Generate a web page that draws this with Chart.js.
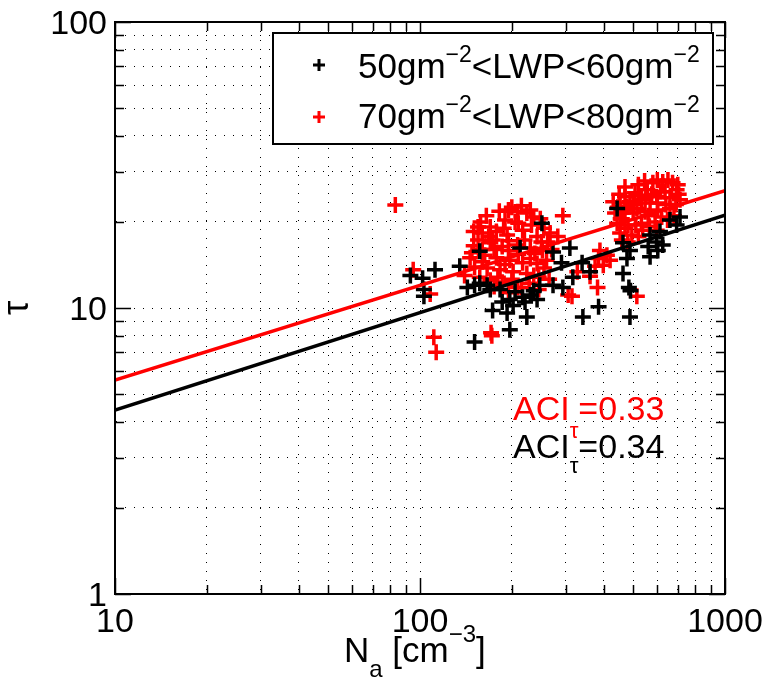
<!DOCTYPE html>
<html><head><meta charset="utf-8"><title>tau vs Na</title>
<script src="https://cdn.jsdelivr.net/npm/chart.js"></script>
<style>
  body { margin: 0; background: #ffffff; }
  canvas { display: block; }
</style>
</head>
<body>
<canvas id="aci" width="767" height="682"></canvas>
<script>
// tick values (log axes)
const xTicks = [10, 20, 30, 40, 50, 60, 70, 80, 90, 100, 200, 300, 400, 500, 600, 700, 800, 900, 1000];
const yTicks = [1, 2, 3, 4, 5, 6, 7, 8, 9, 10, 20, 30, 40, 50, 60, 70, 80, 90, 100];
const xMajor = [10, 100, 1000];
const yMajor = [1, 10, 100];

// 50 < LWP < 60 g m^-2
const blackX = [93, 102, 112, 103, 103, 135, 143, 151, 157, 166, 170, 173, 151, 197, 193, 186, 202, 224, 221, 242,
  230, 251, 273, 310, 291, 247, 273, 294, 342, 340, 213, 157, 183, 197, 217, 236, 205, 443, 712, 660,
  694, 612, 568, 463, 488, 560, 597, 625, 602, 568, 477, 463, 484, 490, 385, 488, 361, 317];
const blackY = [13.0, 12.7, 13.6, 11.6, 11.0, 14.0, 11.8, 12.0, 12.2, 12.0, 11.6, 9.8, 7.6, 8.4, 9.6, 10.5, 10.2, 9.3, 10.5, 10.7,
  11.1, 19.8, 15.7, 16.2, 14.4, 12.0, 12.0, 11.8, 9.3, 14.4, 16.2, 15.8, 11.6, 10.7, 10.9, 11.5, 11.4, 22.3, 20.8, 20.3,
  19.5, 18.5, 18.0, 16.9, 15.9, 16.4, 17.0, 16.6, 15.9, 15.1, 14.9, 13.2, 11.8, 11.5, 10.1, 9.3, 13.4, 12.8];

// 70 < LWP < 80 g m^-2
const redX = [83, 95, 108, 111, 113, 171, 172, 294, 306, 328, 267, 283, 315,
  195, 209, 224, 236, 190, 205, 170, 160, 178, 193, 217, 242, 155, 170, 186, 209, 230, 252, 148, 163, 178, 197,
  217, 242, 260, 151, 166, 183, 202, 224, 170, 186, 209, 157, 146, 155, 215, 236, 195, 173,
  150, 158, 165, 182, 200, 215, 230, 248, 255, 262, 250, 232, 210, 188, 168, 150, 160, 175, 195, 220,
  238, 255, 245, 228, 200, 180, 160, 190, 210, 230, 175, 195, 245, 265, 270, 140,
  389, 410, 385, 420, 375, 399, 361, 382, 514,
  580, 625, 673, 694, 556, 507, 470, 453, 488, 532, 597, 660, 712, 463, 500, 547, 602, 660, 443, 481, 532, 590,
  648, 453, 495, 537, 597, 436, 477, 568, 514, 636, 459,
  450, 470, 520, 545, 600, 650, 700, 705, 690, 640, 615, 575, 550, 520, 500, 470, 455, 470, 510, 560,
  620, 680, 565, 520, 480, 600, 430, 445];
const redY = [22.9, 13.6, 11.2, 7.9, 7.0, 8.2, 8.0, 21.0, 11.1, 13.4, 18.3, 17.8, 11.0,
  22.0, 21.7, 21.5, 20.8, 20.3, 20.0, 19.2, 18.3, 18.5, 18.0, 18.7, 17.8, 17.3, 16.9, 16.4, 16.6, 16.2, 15.9, 15.6, 15.3, 15.0, 14.7,
  14.4, 14.3, 14.7, 13.9, 13.8, 13.6, 13.4, 13.2, 12.5, 12.3, 11.8, 12.8, 15.0, 19.2, 11.8, 13.0, 15.9, 17.3,
  18.5, 20.0, 21.0, 21.8, 22.5, 22.8, 22.0, 20.5, 19.0, 17.0, 17.0, 19.5, 19.8, 19.0, 17.8, 16.5, 16.0, 16.0, 17.2, 17.3,
  15.5, 13.8, 12.8, 12.2, 12.6, 12.8, 14.5, 14.2, 15.4, 14.9, 11.9, 11.3, 11.6, 12.6, 16.0, 13.0,
  15.9, 15.3, 14.9, 14.7, 14.0, 14.1, 12.9, 11.8, 11.0,
  27.4, 27.6, 27.4, 25.9, 25.9, 25.3, 24.5, 23.3, 23.5, 23.9, 24.5, 24.3, 23.9, 21.5, 21.5, 21.7, 22.0, 22.3, 19.8, 19.5, 19.8, 20.0,
  20.3, 18.3, 18.0, 18.7, 18.7, 21.5, 22.6, 23.3, 22.3, 25.5, 17.3,
  25.0, 26.5, 27.0, 27.8, 28.0, 28.0, 27.0, 25.0, 23.0, 23.0, 25.5, 25.0, 24.5, 24.8, 23.0, 22.0, 20.5, 19.0, 19.5, 21.0,
  20.8, 21.0, 19.3, 17.8, 17.0, 23.3, 23.5, 22.5];

// fitted power-law lines, end points read at Na = 10 and 1000
const fitX = [10, 1000];
const blackFitY = [4.4, 21.1];
const redFitY = [5.6, 25.7];

const FONT = '"Liberation Sans", Arial, Helvetica, sans-serif';
const pts = (xs, ys) => xs.map((x, i) => ({ x: x, y: ys[i] }));

function drawRich(ctx, x, y, parts, color) {
  ctx.fillStyle = color;
  ctx.textAlign = 'left';
  ctx.textBaseline = 'alphabetic';
  parts.forEach(p => {
    ctx.font = p.s + 'px ' + FONT;
    ctx.fillText(p.t, x, y + (p.dy || 0));
    x += ctx.measureText(p.t).width;
  });
}

function drawPlus(ctx, x, y, r, color) {
  ctx.strokeStyle = color;
  ctx.lineWidth = 3;
  ctx.beginPath();
  ctx.moveTo(x - r, y); ctx.lineTo(x + r, y);
  ctx.moveTo(x, y - r); ctx.lineTo(x, y + r);
  ctx.stroke();
}

const decorations = {
  id: 'decorations',
  afterDraw(chart) {
    const ctx = chart.ctx;
    const a = chart.chartArea;
    const xs = chart.scales.x, ys = chart.scales.y;
    ctx.save();

    // inward ticks on all four sides
    ctx.strokeStyle = '#000';
    ctx.lineWidth = 1.5;
    ctx.beginPath();
    xTicks.forEach(v => {
      const px = Math.round(xs.getPixelForValue(v)) + 0.5;
      const len = xMajor.includes(v) ? 16 : 9;
      ctx.moveTo(px, a.bottom); ctx.lineTo(px, a.bottom - len);
      ctx.moveTo(px, a.top); ctx.lineTo(px, a.top + len);
    });
    yTicks.forEach(v => {
      const py = Math.round(ys.getPixelForValue(v)) + 0.5;
      const len = yMajor.includes(v) ? 16 : 9;
      ctx.moveTo(a.left, py); ctx.lineTo(a.left + len, py);
      ctx.moveTo(a.right, py); ctx.lineTo(a.right - len, py);
    });
    ctx.stroke();

    // box
    ctx.lineWidth = 2;
    ctx.strokeRect(a.left, a.top, a.right - a.left, a.bottom - a.top);

    // tick labels
    ctx.fillStyle = '#000';
    ctx.font = '34px ' + FONT;
    ctx.textBaseline = 'alphabetic';
    ctx.textAlign = 'center';
    xMajor.forEach(v => ctx.fillText(String(v), xs.getPixelForValue(v), a.bottom + 38));
    ctx.textAlign = 'right';
    yMajor.forEach(v => ctx.fillText(String(v), a.left - 8, ys.getPixelForValue(v) + 12));

    // legend
    const lx = a.left + 158, ly = a.top + 11, lw = 440, lh = 111;
    ctx.fillStyle = '#fff';
    ctx.fillRect(lx, ly, lw, lh);
    ctx.lineWidth = 2;
    ctx.strokeStyle = '#000';
    ctx.strokeRect(lx, ly, lw, lh);
    drawPlus(ctx, lx + 46, ly + 32, 6, '#000');
    drawPlus(ctx, lx + 46, ly + 84, 6, '#ff0000');
    drawRich(ctx, lx + 85, ly + 45, [
      { t: '50gm', s: 35 }, { t: '\u22122', s: 23, dy: -16 },
      { t: '<LWP<60gm', s: 35 }, { t: '\u22122', s: 23, dy: -16 }], '#000');
    drawRich(ctx, lx + 85, ly + 95, [
      { t: '70gm', s: 35 }, { t: '\u22122', s: 23, dy: -16 },
      { t: '<LWP<80gm', s: 35 }, { t: '\u22122', s: 23, dy: -16 }], '#000');

    // ACI annotations
    drawRich(ctx, 513, 420, [{ t: 'ACI', s: 34 }, { t: '\u03c4', s: 22, dy: 18 }, { t: '=0.33', s: 34 }], '#ff0000');
    drawRich(ctx, 513, 458, [{ t: 'ACI', s: 34 }, { t: '\u03c4', s: 22, dy: 15 }, { t: '=0.34', s: 34 }], '#000');

    // axis titles
    drawRich(ctx, 344, 662, [{ t: 'N', s: 35 }, { t: 'a', s: 24, dy: 15 }, { t: ' [cm', s: 35 },
      { t: '\u22123', s: 24, dy: -20 }, { t: ']', s: 35 }], '#000');
    ctx.translate(28, (a.top + a.bottom) / 2);
    ctx.rotate(-Math.PI / 2);
    ctx.font = '36px ' + FONT;
    ctx.fillStyle = '#000';
    ctx.textAlign = 'center';
    ctx.textBaseline = 'alphabetic';
    ctx.fillText('\u03c4', 0, 0);
    ctx.restore();
  }
};

function logAxis(min, max, ticks, extra) {
  return Object.assign({
    type: 'logarithmic',
    min: min,
    max: max,
    afterBuildTicks: s => { s.ticks = ticks.map(v => ({ value: v })); },
    ticks: { display: false, autoSkip: false },
    grid: { color: '#000', lineWidth: 1, drawTicks: false },
    border: { display: true, color: '#000', width: 2, dash: [1, 8] }
  }, extra);
}

new Chart(document.getElementById('aci'), {
  type: 'scatter',
  data: {
    datasets: [
      { data: pts(fitX, blackFitY), showLine: true, borderColor: '#000', borderWidth: 3.5, pointRadius: 0 },
      { data: pts(fitX, redFitY), showLine: true, borderColor: '#ff0000', borderWidth: 3.5, pointRadius: 0 },
      { data: pts(blackX, blackY), pointStyle: 'cross', pointRadius: 8, borderColor: '#000', borderWidth: 3.5 },
      { data: pts(redX, redY), pointStyle: 'cross', pointRadius: 8, borderColor: '#ff0000', borderWidth: 3.5 }
    ]
  },
  options: {
    responsive: false,
    animation: false,
    layout: { autoPadding: false, padding: { top: 22, right: 42, left: 0, bottom: 0 } },
    scales: {
      x: logAxis(10, 1000, xTicks, { afterFit: s => { s.height = 88; } }),
      y: logAxis(1, 100, yTicks, { afterFit: s => { s.width = 115; } })
    },
    plugins: { legend: { display: false }, tooltip: { enabled: false } }
  },
  plugins: [decorations]
});
</script>
</body></html>
